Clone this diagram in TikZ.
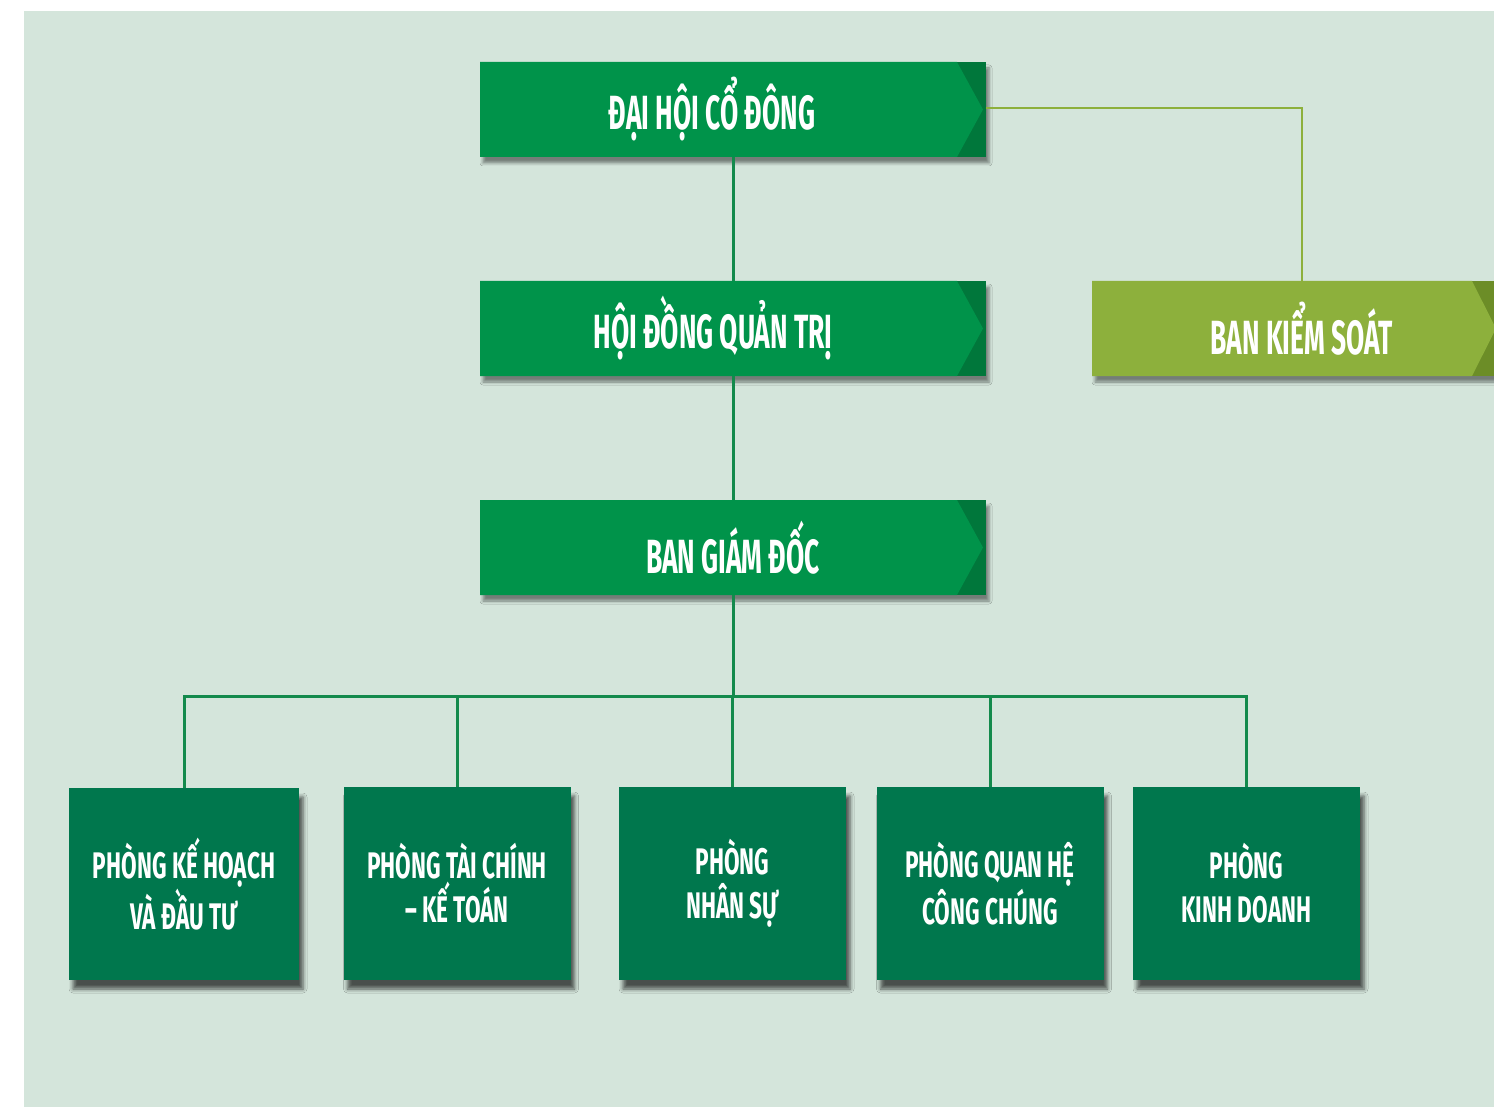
\documentclass[tikz,border=0pt]{standalone}
\usepackage{fontspec}
\setmainfont{Fira Sans}[FakeStretch=0.55]
\newfontfamily\deptfont{Fira Sans}[FakeStretch=0.61]
\usetikzlibrary{shadows.blur}
\definecolor{bgmint}{HTML}{D4E5DB}
\definecolor{topgreen}{HTML}{00934A}
\definecolor{topdark}{HTML}{00773B}
\definecolor{olivegreen}{HTML}{8DB03C}
\definecolor{olivedark}{HTML}{6C8D27}
\definecolor{deptgreen}{HTML}{00774D}
\definecolor{linkgreen}{HTML}{138A4C}

\begin{document}
\begin{tikzpicture}[x=0.5pt,y=-0.5pt,
  chevbox/.style n args={4}{rectangle, fill=#2, text=white, inner sep=0pt,
    minimum height=47.5pt, font=\bfseries\fontsize{24}{28}\selectfont,
    blur shadow={shadow xshift=1.5pt, shadow yshift=-3pt, shadow blur radius=1.5pt, shadow opacity=45},
    path picture={\fill[#1] (path picture bounding box.north west)
      -- ([xshift=-#3]path picture bounding box.north east)
      -- ([xshift=-#4]path picture bounding box.east)
      -- ([xshift=-#3]path picture bounding box.south east)
      -- (path picture bounding box.south west) -- cycle;}},
  deptbox/.style={rectangle, fill=deptgreen, text=white, inner sep=0pt, align=center,
    minimum width=113.5pt, minimum height=96.5pt, font=\deptfont\bfseries\fontsize{18.5}{22}\selectfont,
    blur shadow={shadow xshift=2pt, shadow yshift=-4.5pt, shadow blur radius=2pt, shadow opacity=65}},
  link/.style={draw=linkgreen, line width=1.5pt},
  oliveline/.style={draw=olivegreen, line width=1pt}]
\useasboundingbox (0,0) rectangle (1494,1107);
\clip (0,0) rectangle (1494,1107);
\fill[bgmint] (24,11) rectangle (1494,1107);

% top levels
\node[chevbox={topgreen}{topdark}{14.5pt}{1.5pt}, minimum width=253pt] at (733,109.5) (dhcd) {ĐẠI HỘI CỔ ĐÔNG\rule{21pt}{0pt}};
\node[chevbox={topgreen}{topdark}{14.5pt}{1.5pt}, minimum width=253pt] at (733,328.5) (hdqt) {HỘI ĐỒNG QUẢN TRỊ\rule{20pt}{0pt}};
\node[chevbox={topgreen}{topdark}{14.5pt}{1.5pt}, minimum width=253pt] at (733,547.5) (bgd) {BAN GIÁM ĐỐC};
\node[chevbox={olivegreen}{olivedark}{20pt}{8pt}, minimum width=210pt] at (1302,328.5) (bks) {BAN KIỂM SOÁT};

% departments
\node[deptbox, minimum width=115pt, minimum height=96pt] at (184,884) (p1) {PHÒNG KẾ HOẠCH\\VÀ ĐẦU TƯ};
\node[deptbox] at (457,883.5) (p2) {PHÒNG TÀI CHÍNH\\– KẾ TOÁN};
\node[deptbox] at (732.5,883.5) (p3) {PHÒNG\\NHÂN SỰ};
\node[deptbox] at (990,883.5) (p4) {PHÒNG QUAN HỆ\\CÔNG CHÚNG};
\node[deptbox] at (1246.5,883.5) (p5) {PHÒNG\\KINH DOANH};

\coordinate (bus) at (733,696);
\path[oliveline] ([yshift=0.5pt]dhcd.east) -| (bks.north);
\path[link] (dhcd) -- (hdqt);
\path[link] (hdqt) -- (bgd);
\path[link] (bgd) -- (bus);
\path[link] (bus) -| (p1.north);
\path[link] (bus) -| (p2.north);
\path[link] (bus) -| (p3.north);
\path[link] (bus) -| (p4.north);
\path[link] (bus) -| (p5.north);
\end{tikzpicture}
\end{document}
